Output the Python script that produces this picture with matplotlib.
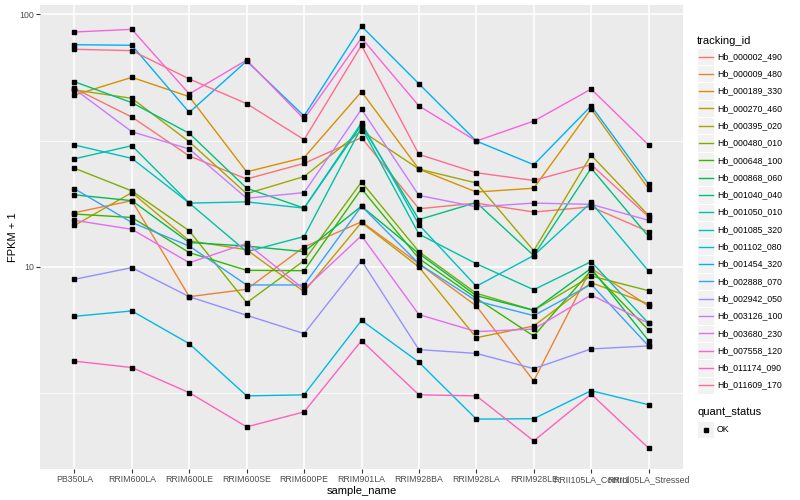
import matplotlib
matplotlib.use("Agg")
import matplotlib.pyplot as plt
from matplotlib.lines import Line2D
from matplotlib.patches import Rectangle
import numpy as np

plt.rcParams['font.family'] = ['Liberation Sans', 'DejaVu Sans']

samples = ["PB350LA", "RRIM600LA", "RRIM600LE", "RRIM600SE", "RRIM600PE",
           "RRIM901LA", "RRIM928BA", "RRIM928LA", "RRIM928LE",
           "RRII105LA_Control", "RRII105LA_Stressed"]

# FPKM + 1 values per tracking_id
Hb_000002_490 = [50.9, 39.2, 27.5, 22.3, 25.7, 32.5, 17.0, 17.9, 16.5, 17.3, 13.8]
Hb_000009_480 = [16.4, 18.3, 7.63, 8.16, 12.0, 15.1, 10.3, 7.01, 3.54, 9.88, 7.01]
Hb_000189_330 = [47.9, 56.3, 47.2, 23.8, 27.1, 49.4, 24.4, 19.8, 20.5, 42.2, 20.4]
Hb_000270_460 = [14.6, 19.7, 12.7, 11.7, 7.99, 15.0, 10.0, 5.25, 5.84, 8.67, 7.14]
Hb_000395_020 = [50.2, 46.5, 31.3, 19.5, 22.8, 34.6, 24.4, 21.5, 11.6, 27.7, 16.0]
Hb_000480_010 = [24.6, 20.0, 13.9, 7.22, 10.6, 21.7, 11.5, 7.87, 6.74, 9.21, 8.06]
Hb_000648_100 = [16.2, 15.7, 11.4, 9.70, 9.67, 20.4, 10.8, 7.52, 5.33, 9.70, 5.63]
Hb_000868_060 = [19.3, 18.3, 12.5, 12.1, 11.5, 17.4, 11.3, 7.70, 6.74, 9.88, 5.11]
Hb_001040_040 = [54.1, 44.7, 33.8, 20.5, 17.1, 36.5, 15.4, 18.0, 11.1, 24.6, 13.2]
Hb_001050_010 = [26.8, 30.2, 17.9, 11.5, 13.2, 35.7, 13.5, 10.3, 8.13, 10.5, 5.99]
Hb_001085_320 = [30.4, 26.9, 17.9, 18.1, 17.1, 37.2, 14.7, 8.39, 11.1, 18.0, 9.64]
Hb_001102_080 = [6.38, 6.70, 4.97, 3.09, 3.12, 6.15, 4.20, 2.50, 2.51, 3.24, 2.85]
Hb_001454_320 = [75.8, 75.4, 40.9, 65.3, 39.6, 89.7, 53.1, 31.5, 25.4, 43.4, 21.3]
Hb_002888_070 = [20.4, 15.0, 12.1, 8.49, 8.49, 17.4, 10.3, 7.34, 6.42, 8.54, 4.87]
Hb_002942_050 = [8.94, 9.94, 7.63, 6.44, 5.45, 10.6, 4.71, 4.55, 3.96, 4.74, 4.87]
Hb_003126_100 = [50.6, 34.3, 29.3, 18.7, 19.7, 42.1, 19.2, 17.3, 17.9, 17.7, 15.3]
Hb_003680_230 = [15.3, 14.1, 10.4, 12.4, 8.16, 13.3, 6.48, 5.55, 5.68, 7.75, 5.99]
Hb_007558_120 = [85.1, 87.2, 48.4, 65.9, 38.5, 80.6, 43.4, 31.5, 37.8, 50.6, 30.4]
Hb_011174_090 = [4.24, 4.00, 3.18, 2.33, 2.67, 5.11, 3.12, 3.09, 2.05, 3.14, 1.92]
Hb_011609_170 = [72.7, 71.8, 55.5, 44.3, 31.9, 75.4, 27.9, 23.6, 22.0, 25.4, 15.8]

tracking_ids = ["Hb_000002_490", "Hb_000009_480", "Hb_000189_330", "Hb_000270_460",
                "Hb_000395_020", "Hb_000480_010", "Hb_000648_100", "Hb_000868_060",
                "Hb_001040_040", "Hb_001050_010", "Hb_001085_320", "Hb_001102_080",
                "Hb_001454_320", "Hb_002888_070", "Hb_002942_050", "Hb_003126_100",
                "Hb_003680_230", "Hb_007558_120", "Hb_011174_090", "Hb_011609_170"]
series = [Hb_000002_490, Hb_000009_480, Hb_000189_330, Hb_000270_460,
          Hb_000395_020, Hb_000480_010, Hb_000648_100, Hb_000868_060,
          Hb_001040_040, Hb_001050_010, Hb_001085_320, Hb_001102_080,
          Hb_001454_320, Hb_002888_070, Hb_002942_050, Hb_003126_100,
          Hb_003680_230, Hb_007558_120, Hb_011174_090, Hb_011609_170]
colors = ["#F8766D", "#EA8331", "#D89000", "#C09B00", "#A3A500", "#7CAE00",
          "#39B600", "#00BB4E", "#00BF7D", "#00C1A3", "#00BFC4", "#00BAE0",
          "#00B0F6", "#35A2FF", "#9590FF", "#C77CFF", "#E76BF3", "#FA62DB",
          "#FF62BC", "#FF6C91"]
quant_status = ["OK"]

W, H = 800, 500
fig = plt.figure(figsize=(8, 5), dpi=100)
L, R, T, B = 40, 683, 5, 469
ax = fig.add_axes([L / W, 1 - B / H, (R - L) / W, (B - T) / H])
ax.set_facecolor("#EBEBEB")

x = np.arange(len(samples))
for vals, c in zip(series, colors):
    ax.plot(x, vals, color=c, lw=1.0, zorder=3, solid_capstyle='butt')
for vals in series:
    ax.plot(x, vals, ls='none', marker='s', ms=2.6, color='black', zorder=4)

ax.set_yscale('log')
ax.set_ylim(10 ** 0.2006, 10 ** 2.0368)
ax.set_xlim(-0.6, len(samples) - 0.4)
ax.set_xticks(x)
ax.set_xticklabels(samples)
ax.set_yticks([10, 100])
ax.set_yticklabels(["10", "100"])
ax.yaxis.set_minor_locator(matplotlib.ticker.FixedLocator([10 ** 0.5, 10 ** 1.5]))
ax.yaxis.set_minor_formatter(matplotlib.ticker.NullFormatter())
ax.grid(True, which='major', color='white', lw=1.1, zorder=0)
ax.grid(True, which='minor', axis='y', color='white', lw=0.55, zorder=0)
ax.set_axisbelow(True)
for s in ax.spines.values():
    s.set_visible(False)
ax.tick_params(axis='both', which='major', length=2.7, width=0.8, color='#333333',
               labelcolor='#4D4D4D', labelsize=6.3, pad=1.5)
ax.tick_params(axis='y', which='minor', length=0)
ax.set_xlabel("sample_name", fontsize=8.0, color='black', labelpad=1.5)
ax.set_ylabel("FPKM + 1", fontsize=8.0, color='black', labelpad=1)

def fx(px):
    return px / W

def fy(py):
    return 1 - py / H

# tracking_id legend
fig.text(fx(697), fy(40.7), "tracking_id", fontsize=8.0, va='center', ha='left')
for i, (name, c) in enumerate(zip(tracking_ids, colors)):
    cy = 56.5 + 17.3 * i
    fig.patches.append(Rectangle((fx(697), fy(cy + 8.6)), 17.3 / W, 17.3 / H,
                                 transform=fig.transFigure, facecolor='#F2F2F2',
                                 edgecolor='white', lw=0.8))
    fig.lines.append(Line2D([fx(698.5), fx(712.5)], [fy(cy), fy(cy)],
                            transform=fig.transFigure, color=c, lw=1.0))
    fig.text(fx(717), fy(cy), name, fontsize=6.3, va='center', ha='left')

# quant_status legend
fig.text(fx(697), fy(412.3), "quant_status", fontsize=8.0, va='center', ha='left')
for j, q in enumerate(quant_status):
    cy = 429.5 + 17.3 * j
    fig.patches.append(Rectangle((fx(697), fy(cy + 8.6)), 17.3 / W, 17.3 / H,
                                 transform=fig.transFigure, facecolor='#F2F2F2',
                                 edgecolor='white', lw=0.8))
    fig.lines.append(Line2D([fx(705.6)], [fy(cy)], transform=fig.transFigure,
                            ls='none', marker='s', ms=2.6, color='black'))
    fig.text(fx(717), fy(cy), q, fontsize=6.3, va='center', ha='left')

fig.savefig("out.png", dpi=100, facecolor='white')
